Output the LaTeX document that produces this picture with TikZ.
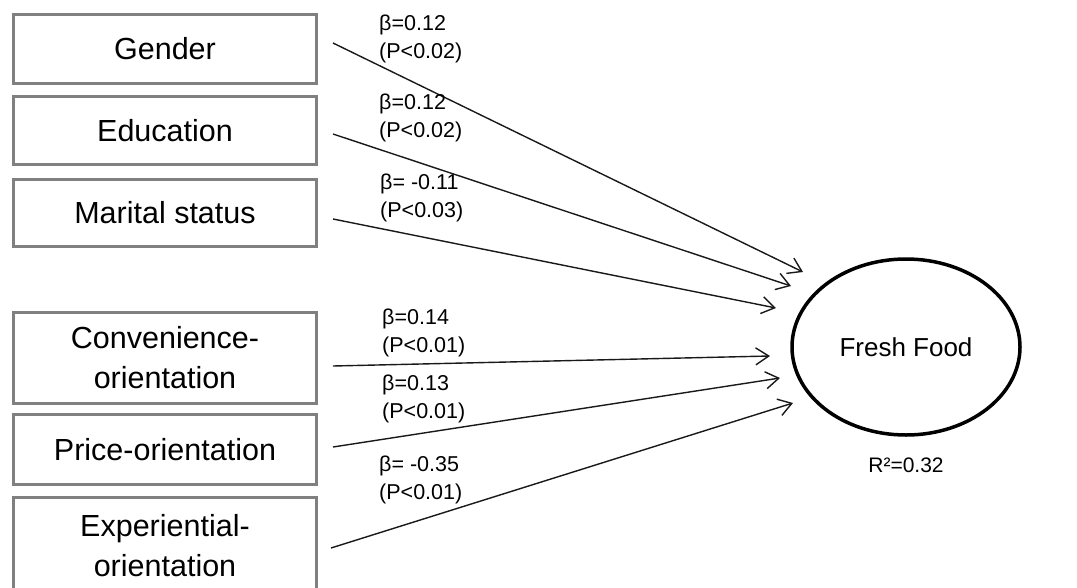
\documentclass[tikz,border=0pt]{standalone}
\usepackage{fontspec}
\setmainfont{Liberation Sans}
\usetikzlibrary{shapes.geometric,arrows.meta}
\begin{document}
\begin{tikzpicture}[x=1pt,y=-1pt,
  varbox/.style={draw=black!50, line width=3pt, minimum width=303pt, align=center,
    font=\fontsize{30.5}{40}\selectfont, inner sep=0pt},
  coef/.style={anchor=west, align=left, font=\fontsize{21.5}{27.5}\selectfont, inner sep=0pt},
  path/.style={line width=1.4pt, draw=black!90, -{Straight Barb[length=13pt,width=17pt,line width=1.4pt]}}
]
\useasboundingbox (0,0) rectangle (1077,587);
\clip (0,0) rectangle (1077,587);
\fill[white] (0,0) rectangle (1077,587);

\node[varbox, minimum height=69pt] (gen) at (165,49) {Gender};
\node[varbox, minimum height=68pt] (edu) at (165,130.5) {Education};
\node[varbox, minimum height=67pt] (mar) at (165,213) {Marital status};
\node[varbox, minimum height=91pt] (con) at (165,358) {Convenience-\\orientation};
\node[varbox, minimum height=70pt] (pri) at (165,449.5) {Price-orientation};
\node[varbox, minimum height=98pt] (exp) at (165,546) {Experiential-\\orientation};

\node[ellipse, draw=black, line width=3.5pt, minimum width=228pt, minimum height=176pt,
  font=\fontsize{26}{30}\selectfont] (ff) at (906,347) {Fresh Food};
\node[font=\fontsize{21}{25}\selectfont, inner sep=0pt] (r2) at (906,465) {R²=0.32};

\coordinate (s1) at (333,43);
\coordinate (s2) at (333,134);
\coordinate (s3) at (333,219);
\coordinate (s4) at (333,366);
\coordinate (s5) at (333,447);
\coordinate (s6) at (331,548);
\coordinate (e1) at (803,272);
\coordinate (e2) at (791,286);
\coordinate (e3) at (776,308);
\coordinate (e4) at (770,356);
\coordinate (e5) at (780,378);
\coordinate (e6) at (793,403);

\draw[path] (s1) -- (e1);
\draw[path] (s2) -- (e2);
\draw[path] (s3) -- (e3);
\draw[path] (s4) -- (e4);
\draw[path] (s5) -- (e5);
\draw[path] (s6) -- (e6);

\node[coef] (l1) at (379,39) {β=0.12\\(P<0.02)};
\node[coef] (l2) at (379,118) {β=0.12\\(P<0.02)};
\node[coef] (l3) at (380,198) {β= -0.11\\(P<0.03)};
\node[coef] (l4) at (382,333) {β=0.14\\(P<0.01)};
\node[coef] (l5) at (382,399) {β=0.13\\(P<0.01)};
\node[coef] (l6) at (379,480) {β= -0.35\\(P<0.01)};
\end{tikzpicture}
\end{document}
